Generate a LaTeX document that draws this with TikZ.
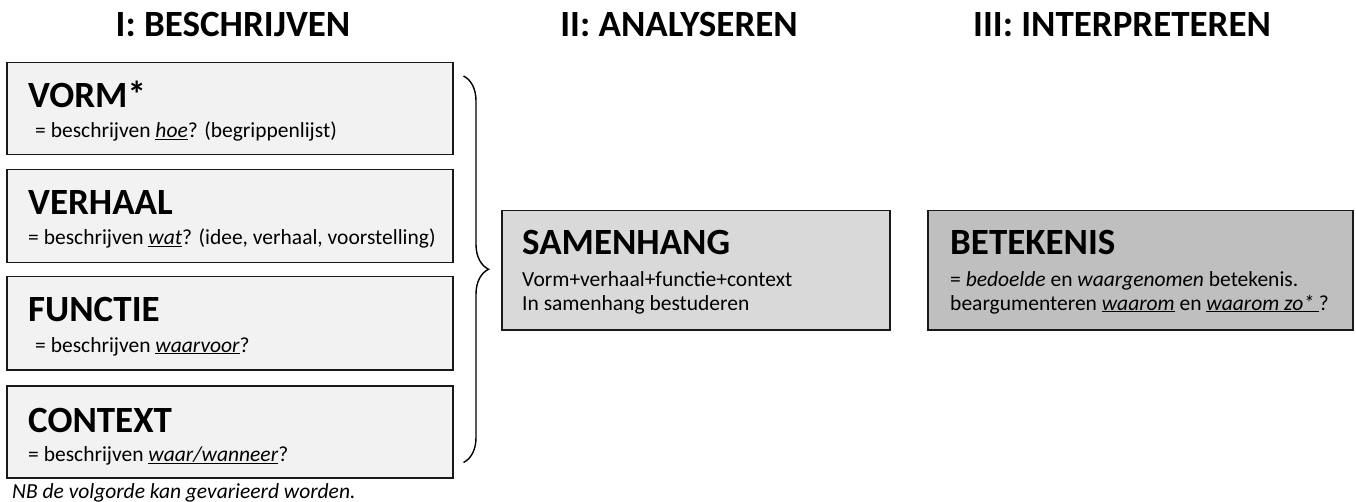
\documentclass[tikz,border=0pt]{standalone}
\usepackage{fontspec}
\setmainfont{Carlito}
\usetikzlibrary{decorations.pathreplacing,positioning}

\newcommand{\uit}[1]{\underline{\textit{#1}}}

\tikzset{
  stagebox/.style={draw=black!90, line width=1.5pt, rectangle, inner sep=0, anchor=north west},
  headtext/.style={font=\fontsize{37}{41}\selectfont\bfseries, anchor=base, inner sep=0},
  boxtitle/.style={font=\fontsize{37}{41}\selectfont\bfseries, anchor=base west, inner sep=0},
  boxtext/.style={font=\fontsize{21.5}{24}\selectfont, anchor=base west, inner sep=0}
}

\begin{document}
\begin{tikzpicture}[x=1pt,y=-1pt]
  \useasboundingbox (0,0) rectangle (1356,502);
  %Draw stage headings
  \node[headtext] (headI)   at (233,37)  {I: BESCHRIJVEN};
  \node[headtext] (headII)  at (679,37)  {II: ANALYSEREN};
  \node[headtext] (headIII) at (1122,37) {III: INTERPRETEREN};
  %Draw the four describing boxes
  \node[stagebox, fill=gray!10, minimum width=446pt, minimum height=92pt] (vorm)    at (6,62)  {};
  \node[stagebox, fill=gray!10, minimum width=446pt, minimum height=93pt] (verhaal) at (6,169) {};
  \node[stagebox, fill=gray!10, minimum width=446pt, minimum height=93pt] (functie) at (6,276) {};
  \node[stagebox, fill=gray!10, minimum width=446pt, minimum height=92pt] (context) at (6,385) {};
  \node[boxtitle] (vormtitle)    at ([shift={(22,46)}]vorm.north west)    {VORM*};
  \node[boxtext]  (vormtext)     at ([shift={(29,76)}]vorm.north west)    {= beschrijven \uit{hoe}? (begrippenlijst)};
  \node[boxtitle] (verhaaltitle) at ([shift={(22,46)}]verhaal.north west) {VERHAAL};
  \node[boxtext]  (verhaaltext)  at ([shift={(22,76)}]verhaal.north west) {= beschrijven \uit{wat}? (idee, verhaal, voorstelling)};
  \node[boxtitle] (functietitle) at ([shift={(22,46)}]functie.north west) {FUNCTIE};
  \node[boxtext]  (functietext)  at ([shift={(29,76)}]functie.north west) {= beschrijven \uit{waarvoor}?};
  \node[boxtitle] (contexttitle) at ([shift={(22,47)}]context.north west) {CONTEXT};
  \node[boxtext]  (contexttext)  at ([shift={(22,76)}]context.north west) {= beschrijven \uit{waar/wanneer}?};
  \node[boxtext, font=\fontsize{21.5}{24}\selectfont\itshape] (nbnote) at (12,498) {NB de volgorde kan gevarieerd worden.};
  %Draw brace round the describing boxes
  \coordinate (bracetop) at ([shift={(10,14)}]vorm.north east);
  \coordinate (bracebot) at ([shift={(10,-16)}]context.south east);
  \draw[line width=1.4pt, decorate, decoration={brace, amplitude=25pt}] (bracetop) -- (bracebot);
  %Draw analysing box
  \node[stagebox, fill=gray!30, minimum width=388pt, minimum height=119pt] (samenhang) at (501,210) {};
  \node[boxtitle] (samtitle) at ([shift={(21,45)}]samenhang.north west) {SAMENHANG};
  \node[boxtext]  (samtexta) at ([shift={(21,77)}]samenhang.north west) {Vorm+verhaal+functie+context};
  \node[boxtext]  (samtextb) at ([shift={(21,100)}]samenhang.north west) {In samenhang bestuderen};
  %Draw interpreting box
  \node[stagebox, fill=gray!50, minimum width=425pt, minimum height=119pt] (betekenis) at (927,210) {};
  \node[boxtitle] (bettitle) at ([shift={(23,45)}]betekenis.north west) {BETEKENIS};
  \node[boxtext]  (bettexta) at ([shift={(23,77)}]betekenis.north west) {= \textit{bedoelde} en \textit{waargenomen} betekenis.};
  \node[boxtext]  (bettextb) at ([shift={(23,100)}]betekenis.north west) {beargumenteren \uit{waarom} en \uit{waarom zo*\ }?};
\end{tikzpicture}
\end{document}
